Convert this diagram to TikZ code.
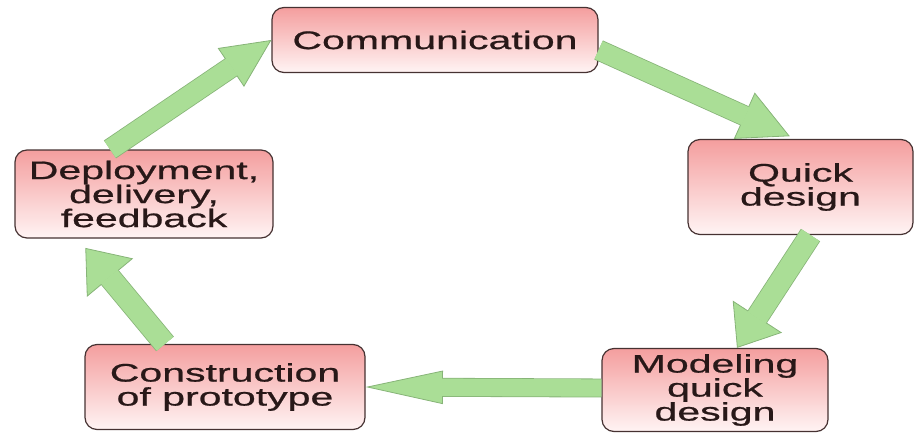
\documentclass[tikz,border=0pt]{standalone}
\usepackage{xcolor}
\usepackage{fontspec}
\setmainfont{Liberation Sans}[FakeStretch=1.62, FakeBold=0.8]
\usepackage{tikz}
\usetikzlibrary{shapes,arrows.meta,positioning}

\definecolor{boxtop}{RGB}{244,158,158}
\definecolor{boxbottom}{RGB}{255,244,244}
\definecolor{boxline}{RGB}{70,50,50}
\definecolor{arrowfill}{RGB}{170,222,150}
\definecolor{arrowline}{RGB}{135,180,120}
\definecolor{ink}{RGB}{40,24,24}

\begin{document}
\begin{tikzpicture}[
    x=0.75pt, y=0.75pt,
    stage/.style={rectangle, draw=boxline, line width=0.9pt, rounded corners=9pt, top color=boxtop, bottom color=boxbottom, align=center, inner sep=0pt, text=ink, font=\fontsize{19}{18}\selectfont},
    rim/.style n args={3}{draw=arrowline, line width=#1, -{Triangle[length=#2, width=#3, fill=arrowfill, line width=0.6pt]}},
    core/.style n args={2}{draw=arrowfill, line width=#1, shorten >=#2}
]
    \useasboundingbox (0,0) rectangle (917,433);

    % Stages
    \node[stage, minimum width=244.5pt, minimum height=48.75pt] (comm) at (435,393) {Communication};
    \node[stage, minimum width=168.75pt, minimum height=71.25pt] (quick) at (800.5,246) {Quick\\design};
    \node[stage, minimum width=169.5pt, minimum height=62.25pt] (model) at (715,43) {Modeling\\quick\\design};
    \node[stage, minimum width=210pt, minimum height=63.75pt] (constr) at (225,46) {Construction\\of prototype};
    \node[stage, minimum width=193.5pt, minimum height=66pt] (deploy) at (144,239) {Deployment,\\delivery,\\feedback};

    % Arrows (outline, then fill)
    \draw[rim={16.2pt}{36.75pt}{35pt}] ([xshift=-25.5pt]deploy.north) -- (comm.west);
    \draw[core={15pt}{35.75pt}] ([xshift=-25.5pt]deploy.north) -- (comm.west);

    \draw[rim={15.7pt}{37.5pt}{38pt}] ([yshift=-7.5pt]comm.east) -- ([xshift=-8pt,yshift=2pt]quick.north);
    \draw[core={14.5pt}{36.5pt}] ([yshift=-7.5pt]comm.east) -- ([xshift=-8pt,yshift=2pt]quick.north);

    \draw[rim={17.2pt}{28pt}{44pt}] ([xshift=7.5pt]quick.south) -- ([xshift=16.5pt]model.north);
    \draw[core={16pt}{27pt}] ([xshift=7.5pt]quick.south) -- ([xshift=16.5pt]model.north);

    \draw[rim={14.2pt}{58pt}{25pt}] ([yshift=1.5pt]model.west) -- (constr.east);
    \draw[core={13pt}{57pt}] ([yshift=1.5pt]model.west) -- (constr.east);

    \draw[rim={17.2pt}{29pt}{45pt}] ([xshift=-45pt]constr.north) -- ([xshift=-44pt,yshift=-7pt]deploy.south);
    \draw[core={16pt}{28pt}] ([xshift=-45pt]constr.north) -- ([xshift=-44pt,yshift=-7pt]deploy.south);
\end{tikzpicture}
\end{document}
